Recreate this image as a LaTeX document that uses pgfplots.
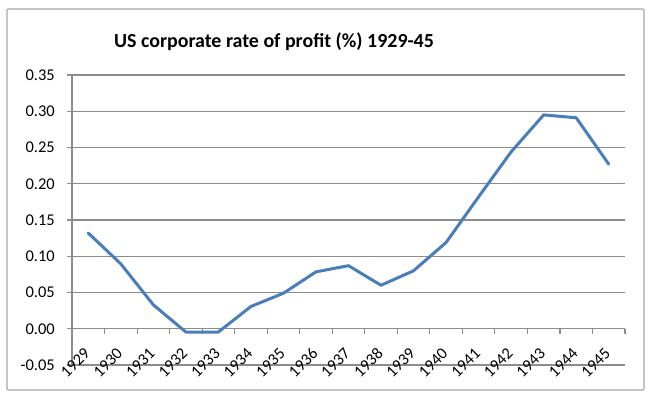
\documentclass[border=0pt]{standalone}
\usepackage{pgfplots}
\pgfplotsset{compat=1.18}
\usepackage{fontspec}
\setmainfont{Carlito}
\definecolor{lineblue}{HTML}{4A7EBB}
\definecolor{gridgray}{HTML}{8C8C8C}
\definecolor{bordergray}{HTML}{A6A6A6}
\begin{document}
\begin{tikzpicture}[x=1bp,y=1bp]
\path[use as bounding box] (0,0) rectangle (650,398);
\draw[bordergray, line width=1.3bp, rounded corners=1bp] (7,8) rectangle (644,389);
\node[font=\bfseries\fontsize{20}{24}\selectfont, anchor=base] at (274,351) {US corporate rate of profit (\%) 1929-45};
\begin{axis}[
  at={(72bp,33bp)}, anchor=south west,
  scale only axis, width=553bp, height=290bp,
  xmin=-0.5, xmax=16.5, ymin=-0.05, ymax=0.35,
  axis x line=middle, axis y line=left,
  axis line style={-, draw=gridgray, line width=1.1bp},
  every inner x axis line/.append style={-},
  every outer y axis line/.append style={-},
  hide obscured x ticks=false, hide obscured y ticks=false,
  ymajorgrids, grid style={gridgray, line width=1.1bp},
  ytick={-0.05,0,0.05,0.1,0.15,0.2,0.25,0.3,0.35},
  yticklabels={-0.05,0.00,0.05,0.10,0.15,0.20,0.25,0.30,0.35},
  xtick={0,...,16},
  xticklabels={1929,1930,1931,1932,1933,1934,1935,1936,1937,1938,1939,1940,1941,1942,1943,1944,1945},
  minor xtick={-0.5,0.5,...,16.5},
  major x tick style={draw=none},
  minor tick length=5bp, major tick length=5bp,
  tick align=outside,
  tick style={gridgray, line width=1.1bp},
  yticklabel style={font=\fontsize{16.5}{18}\selectfont, inner sep=0pt, xshift=-12bp},
  xticklabel style={font=\fontsize{16.5}{18}\selectfont, inner sep=0pt, rotate=45, anchor=north east, xshift=-12.7bp, yshift=-5.6bp},
  clip=false,
]
\addplot[lineblue, line width=3bp, line join=round, line cap=round] coordinates {
(0,0.132) (1,0.0895) (2,0.033) (3,-0.0045) (4,-0.0045) (5,0.0307) (6,0.049) (7,0.0785) (8,0.087)
(9,0.060) (10,0.080) (11,0.119) (12,0.182) (13,0.244) (14,0.295) (15,0.291) (16,0.227)
};
\end{axis}
\end{tikzpicture}
\end{document}
